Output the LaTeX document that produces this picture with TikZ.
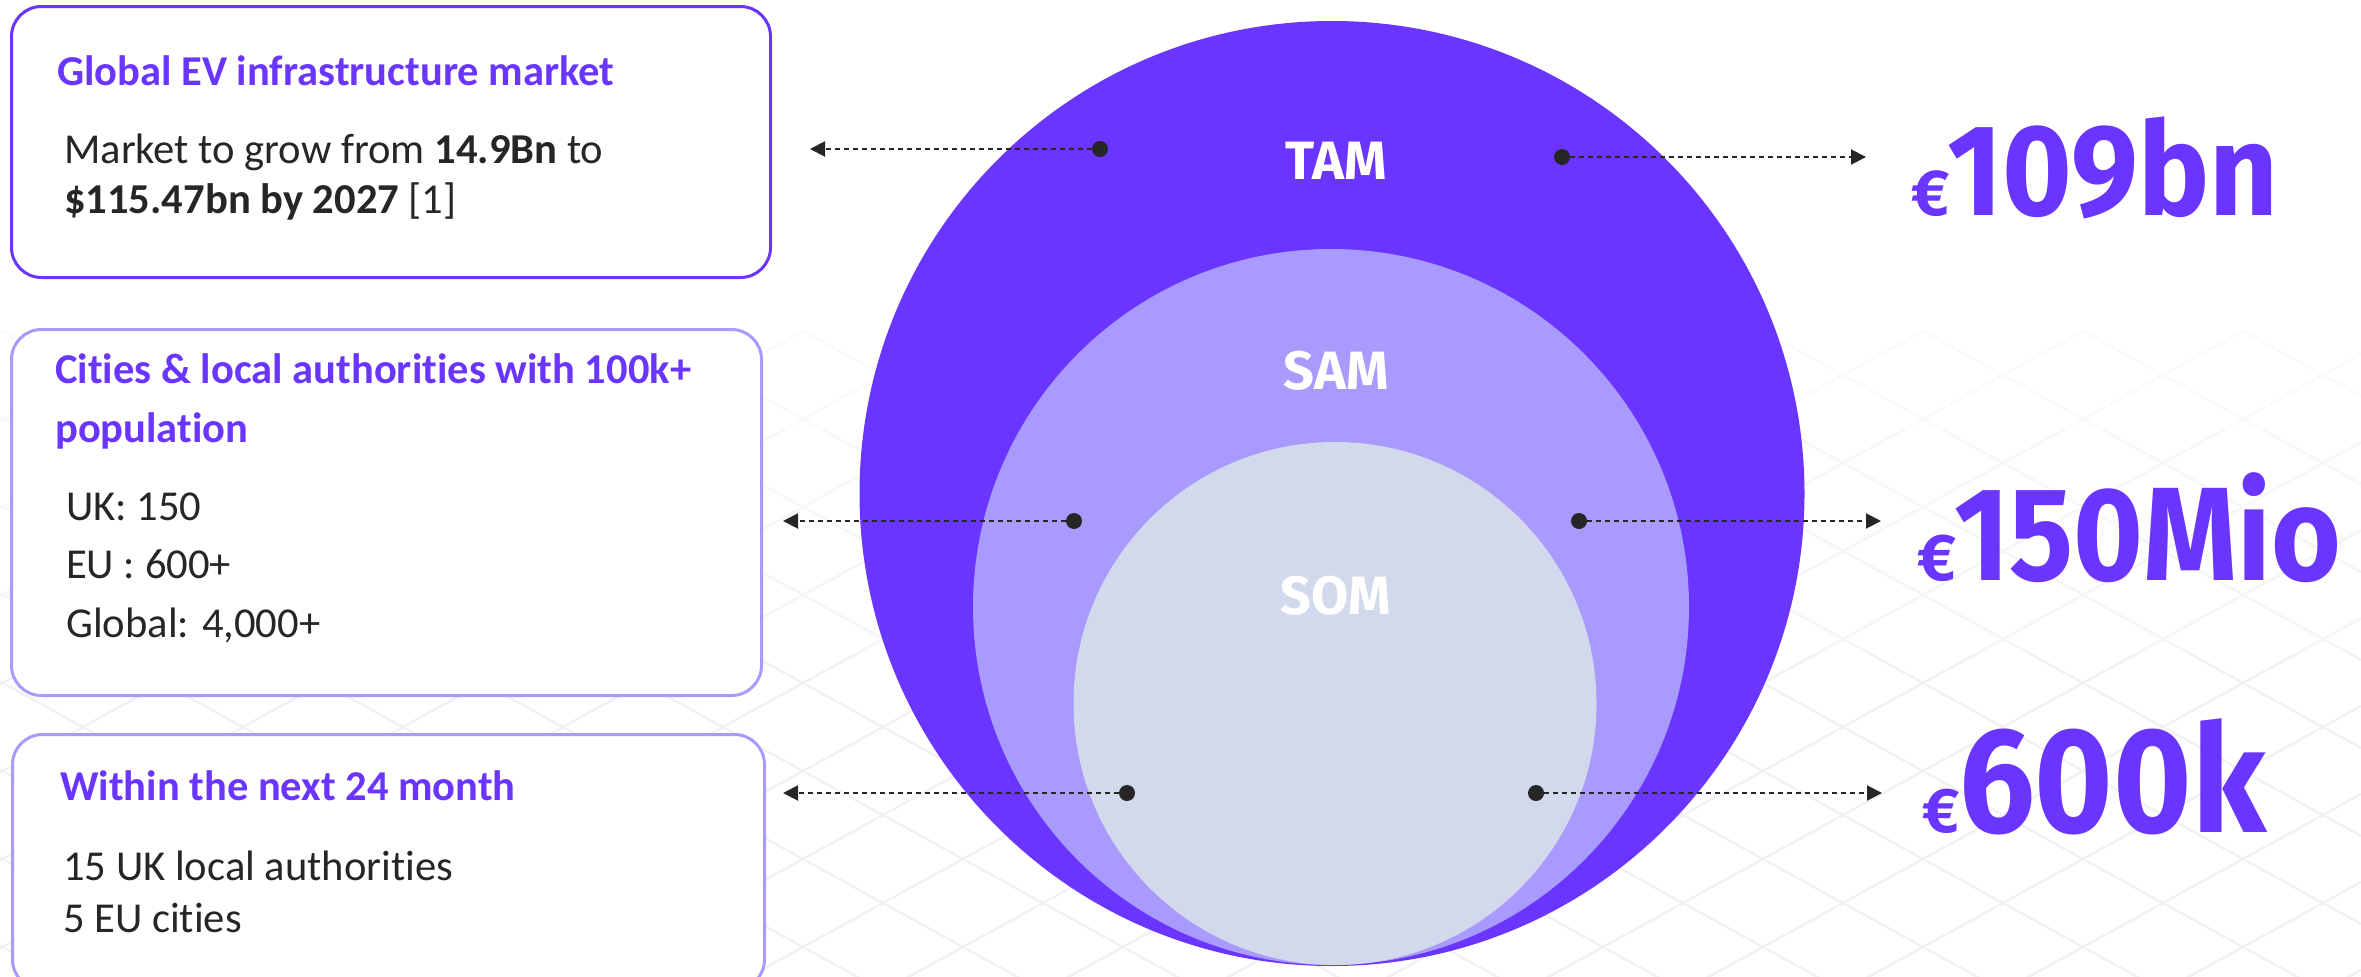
\documentclass[tikz,border=0pt]{standalone}
\usepackage{fontspec}
\setmainfont{Carlito}[Ligatures=NoCommon]
\newfontfamily\numfont{Fira Sans}
\usetikzlibrary{arrows.meta,shapes.geometric}
\definecolor{tam}{HTML}{6935FF}
\definecolor{sam}{HTML}{A99AFE}
\definecolor{som}{HTML}{D3D9EC}
\definecolor{ink}{HTML}{262626}
\begin{document}
\begin{tikzpicture}[x=1pt,y=-1pt,
  boxA/.style={draw=tam, line width=3pt, rounded corners=30pt, fill=white, anchor=north west, inner sep=0pt},
  boxB/.style={draw=sam, line width=3pt, rounded corners=30pt, fill=white, anchor=north west, inner sep=0pt},
  head/.style={anchor=base west, inner sep=0pt, text=tam, font=\fontsize{42.5}{50}\selectfont\bfseries},
  body/.style={anchor=base west, inner sep=0pt, text=ink, font=\fontsize{42.6}{50}\selectfont},
  seg/.style={anchor=base, inner sep=0pt, text=white, font=\numfont\bfseries\fontsize{54}{60}\selectfont},
  disc/.style={ellipse, inner sep=0pt, draw=none},
  dot/.style={circle, fill=ink, inner sep=0pt, minimum size=16pt},
  lead/.style={draw=ink, line width=2pt, dash pattern=on 5pt off 4pt, -{Triangle[length=15pt,width=15pt]}},
  big/.style={anchor=base west, inner sep=0pt, text=tam, font=\numfont\bfseries},
  eur/.style={anchor=base east, inner sep=0pt, text=tam, font=\numfont\bfseries},
  gridline/.style={line width=2pt},
]
\useasboundingbox (0,0) rectangle (2361,977);
\fill[white] (0,0) rectangle (2361,977);

% faint background grid, fading towards the top
\foreach \yy/\cc in {330/2,430/3,530/4,650/5}{
  \begin{scope}
    \clip (0,\yy) rectangle (2361,977);
    \foreach \k in {-19,...,8}
      \draw[gridline, black!\cc] (0,329.35+88*\k) -- (2361,1627.9+88*\k);
    \foreach \k in {-15,...,11}
      \draw[gridline, black!\cc] (0,1300.65+88*\k) -- (2361,2.1+88*\k);
  \end{scope}
}

% boxes
\node[boxA, minimum width=759pt, minimum height=271pt] (b1) at (10,5) {};
\node[boxB, minimum width=750pt, minimum height=366pt] (b2) at (10,328) {};
\node[boxB, minimum width=752pt, minimum height=255pt] (b3) at (11,733) {};

\node[head] (h1) at (57,85) {Global EV infrastructure market};
\node[body] (t1a) at (64,163) {Market to grow from \textbf{14.9Bn} to};
\node[body] (t1b) at (64,213) {\textbf{\$115.47bn by 2027} [1]};

\node[head] (h2a) at (55,383) {Cities \& local authorities with 100k+};
\node[head] (h2b) at (55,442) {population};
\node[body] (t2a) at (66,520) {UK: 150};
\node[body] (t2b) at (66,578) {EU : 600+};
\node[body] (t2c) at (66,637) {Global: 4,000+};

\node[head] (h3) at (60,800) {Within the next 24 month};
\node[body] (t3a) at (63,880) {15 UK local authorities};
\node[body] (t3b) at (63,932) {5 EU cities};

% circles
\node[disc, fill=tam, minimum width=945pt, minimum height=945pt] (tam) at (1332,493.5) {};
\node[disc, fill=sam, minimum width=716pt, minimum height=716pt] (sam) at (1331,607) {};
\node[disc, fill=som, minimum width=523pt, minimum height=523pt] (som) at (1335,703.5) {};

\node[seg] (ltam) at (1336,179) {TAM};
\node[seg] (lsam) at (1336,389) {SAM};
\node[seg] (lsom) at (1336,614) {SOM};

% leaders
\node[dot] (d1l) at (1100,149) {};
\node[dot] (d1r) at (1562,157) {};
\node[dot] (d2l) at (1074,521) {};
\node[dot] (d2r) at (1579,521) {};
\node[dot] (d3l) at (1127,793) {};
\node[dot] (d3r) at (1536,793) {};
\coordinate (a1l) at (810,149);
\coordinate (a1r) at (1866,157);
\coordinate (a2l) at (783,521);
\coordinate (a2r) at (1881,521);
\coordinate (a3l) at (783,793);
\coordinate (a3r) at (1882,793);
\draw[lead] (d1l) -- (a1l);
\draw[lead] (d1r) -- (a1r);
\draw[lead] (d2l) -- (a2l);
\draw[lead] (d2r) -- (a2r);
\draw[lead] (d3l) -- (a3l);
\draw[lead] (d3r) -- (a3r);

% values
\node[eur, font=\numfont\bfseries\fontsize{65}{70}\selectfont] (e1) at (1950,215) {€};
\node[big] (v1) at (1947,215) {\resizebox{331pt}{\height}{\fontsize{130}{140}\selectfont 109bn}};
\node[eur, font=\numfont\bfseries\fontsize{66}{70}\selectfont] (e2) at (1957,580) {€};
\node[big] (v2) at (1954,580) {\resizebox{387pt}{\height}{\fontsize{133}{140}\selectfont 150Mio}};
\node[eur, font=\numfont\bfseries\fontsize{63}{70}\selectfont] (e3) at (1960,832) {€};
\node[big] (v3) at (1959,832) {\resizebox{307pt}{\height}{\fontsize{150}{160}\selectfont 600k}};
\end{tikzpicture}
\end{document}
